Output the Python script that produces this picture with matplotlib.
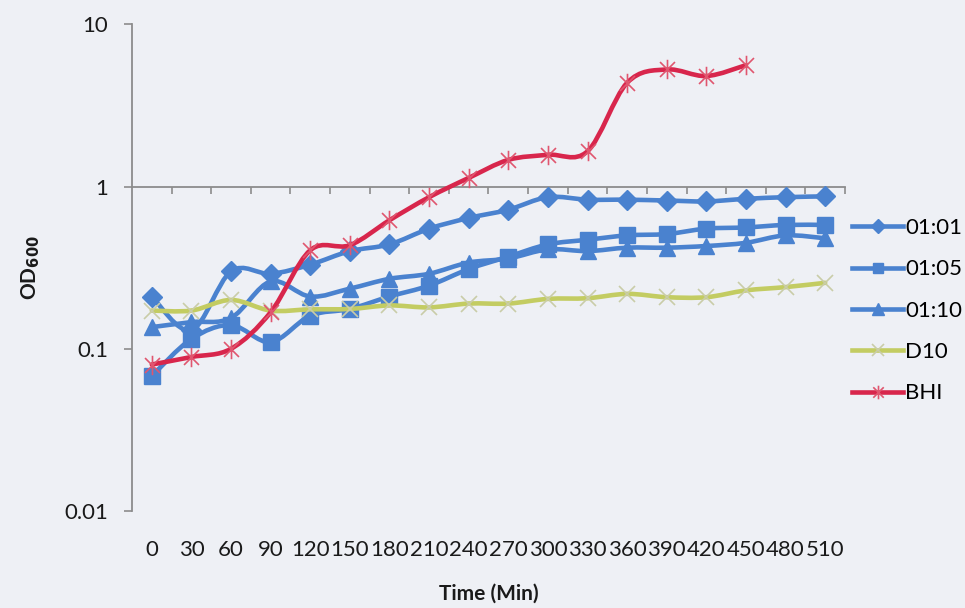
import matplotlib
matplotlib.use("Agg")
import matplotlib.pyplot as plt
import numpy as np
from matplotlib.lines import Line2D
from matplotlib.patches import PathPatch
from matplotlib.path import Path

# ===== data
times = [0, 30, 60, 90, 120, 150, 180, 210, 240, 270, 300, 330, 360, 390, 420, 450, 480, 510]
od_0101 = [0.21, 0.13, 0.30, 0.29, 0.33, 0.40, 0.44, 0.55, 0.64, 0.72, 0.86, 0.83, 0.83, 0.82, 0.81, 0.84, 0.86, 0.87]
od_0105 = [0.068, 0.115, 0.14, 0.11, 0.16, 0.176, 0.21, 0.245, 0.31, 0.37, 0.44, 0.47, 0.50, 0.51, 0.55, 0.56, 0.58, 0.58]
od_0110 = [0.136, 0.146, 0.155, 0.26, 0.21, 0.235, 0.27, 0.29, 0.34, 0.36, 0.41, 0.40, 0.42, 0.42, 0.43, 0.45, 0.50, 0.48]
od_d10 = [0.172, 0.172, 0.20, 0.172, 0.175, 0.176, 0.185, 0.18, 0.19, 0.19, 0.203, 0.205, 0.218, 0.208, 0.208, 0.229, 0.24, 0.255]
od_bhi = [0.080, 0.089, 0.10, 0.168, 0.405, 0.435, 0.62, 0.86, 1.13, 1.46, 1.57, 1.65, 4.36, 5.27, 4.8, 5.6]
labels = ["01:01", "01:05", "01:10", "D10", "BHI"]

BLUE = "#4a82cf"
GREEN = "#c3cc62"
RED = "#d8264c"
BG = "#eef0f5"
AXC = "#8c8c8c"
TXT = "#1a1a1a"

# star marker like the spreadsheet one (x plus a vertical bar)
star = Path([(-1, -1), (1, 1), (-1, 1), (1, -1), (0, -1.3), (0, 1.3)],
            [Path.MOVETO, Path.LINETO, Path.MOVETO, Path.LINETO, Path.MOVETO, Path.LINETO])


def smooth_path(xs, ys):
    """Catmull-Rom as cubic Bezier, built in (x, log y) space"""
    px = np.asarray(xs, float)
    py = np.log10(np.asarray(ys, float))
    n = len(px)
    verts = [(px[0], py[0])]
    codes = [Path.MOVETO]
    for i in range(n - 1):
        i0, i3 = max(i - 1, 0), min(i + 2, n - 1)
        c1 = (px[i] + (px[i + 1] - px[i0]) / 6, py[i] + (py[i + 1] - py[i0]) / 6)
        c2 = (px[i + 1] - (px[i3] - px[i]) / 6, py[i + 1] - (py[i3] - py[i]) / 6)
        verts += [c1, c2, (px[i + 1], py[i + 1])]
        codes += [Path.CURVE4] * 3
    verts = [(x, 10 ** y) for x, y in verts]
    return Path(verts, codes)


plt.rcParams["font.family"] = ["Lato", "DejaVu Sans"]
fig = plt.figure(figsize=(9.65, 6.08), dpi=100, facecolor=BG)
ax = fig.add_axes([0.1368, 0.1595, 0.7388, 0.8005])
ax.set_facecolor(BG)

idx = np.arange(len(times))
series = [
    (od_0101, BLUE, dict(marker="D", markersize=10, markerfacecolor=BLUE, markeredgecolor=BLUE)),
    (od_0105, BLUE, dict(marker="s", markersize=11, markerfacecolor=BLUE, markeredgecolor=BLUE)),
    (od_0110, BLUE, dict(marker="^", markersize=12, markerfacecolor=BLUE, markeredgecolor=BLUE)),
    (od_d10, GREEN, dict(marker="x", markersize=12, markeredgecolor="#c9cca8", markeredgewidth=1.2)),
    (od_bhi, RED, dict(marker=star, markersize=14, markeredgecolor="#e0566f", markeredgewidth=1.2,
                       markerfacecolor="none")),
]
handles = []
for k, (vals, col, mk) in enumerate(series):
    xs = idx[:len(vals)]
    ax.add_patch(PathPatch(smooth_path(xs, vals), facecolor="none", edgecolor=col,
                           lw=3.3, capstyle="round", joinstyle="round", zorder=3 + k))
    ax.plot(xs, vals, linestyle="none", zorder=3.5 + k, **mk)
    hmk = dict(mk)
    hmk["markersize"] = mk["markersize"] * 0.7
    handles.append(Line2D([], [], color=col, lw=3.3, **hmk))

ax.set_yscale("log")
ax.set_ylim(0.01, 10)
ax.set_xlim(-0.5, len(times) - 0.5)

# ===== axes styling: horizontal axis crosses at 1
for s in ["top", "right"]:
    ax.spines[s].set_visible(False)
ax.spines["left"].set_color(AXC)
ax.spines["left"].set_linewidth(1.3)
ax.spines["bottom"].set_position(("data", 1))
ax.spines["bottom"].set_color(AXC)
ax.spines["bottom"].set_linewidth(1.3)
ax.set_yticks([0.01, 0.1, 1, 10])
ax.set_yticklabels(["0.01", "0.1", "1", "10"])
ax.yaxis.set_minor_locator(matplotlib.ticker.NullLocator())
ax.tick_params(axis="y", length=6, width=1.2, color=AXC, pad=11, labelsize=16, labelcolor=TXT)
ax.set_xticks([])
ax.set_xticks(np.arange(0.5, len(times)), minor=True)
ax.tick_params(axis="x", which="minor", length=5, width=1.2, color=AXC, direction="out")

sec = ax.secondary_xaxis("bottom")
sec.set_xticks(idx)
sec.set_xticklabels([str(t) for t in times])
sec.spines["bottom"].set_visible(False)
sec.tick_params(length=0, pad=21, labelsize=16, labelcolor=TXT)
sec.set_xlabel("Time (Min)", fontsize=15, fontweight="bold", labelpad=17, color=TXT)

ax.set_ylabel("OD$_{\\mathbf{600}}$", fontsize=15, fontweight="bold", labelpad=16, color=TXT)

fig.legend(handles, labels, loc="upper left", bbox_to_anchor=(852 / 965, 1 - 218 / 608),
           frameon=False, fontsize=16, handlelength=2.3, handletextpad=0.1,
           labelspacing=0.96, borderpad=0, borderaxespad=0)

fig.savefig("out.png", dpi=100, facecolor=BG)
